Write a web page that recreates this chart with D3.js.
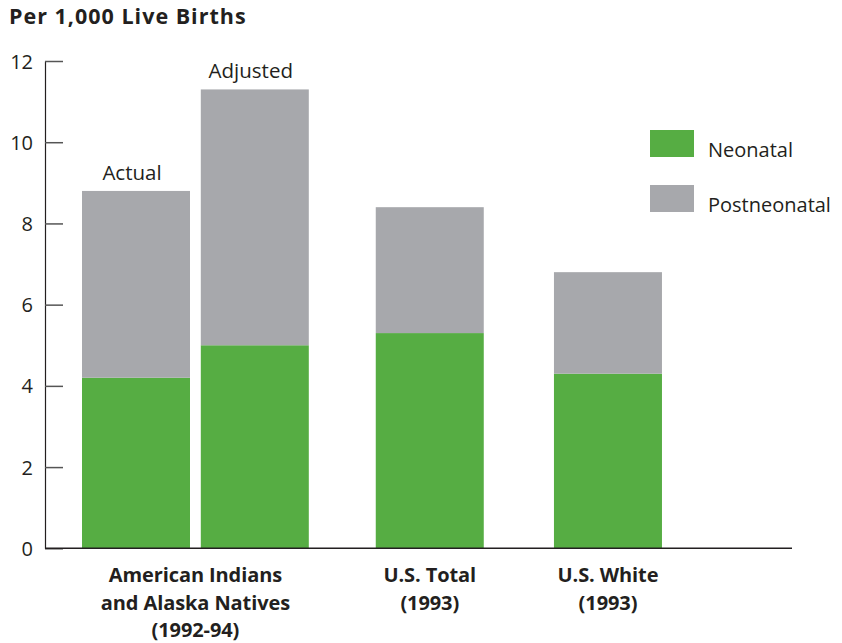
<!DOCTYPE html>
<html>
<head>
<meta charset="utf-8">
<script src="https://cdn.jsdelivr.net/npm/d3@7"></script>
<style>
  html, body { margin: 0; padding: 0; background: #fff; }
  svg { display: block; }
  text { font-family: "Open Sans", "Noto Sans", sans-serif; fill: #231f20; }
</style>
</head>
<body>
<svg id="chart" width="842" height="643"></svg>
<script>
// ---- Data ----
const barKeys = ["Actual", "Adjusted", "U.S. Total", "U.S. White"];
const barTopLabels = ["Actual", "Adjusted", "", ""];
const neonatal = [4.2, 5.0, 5.3, 4.3];
const postneonatal = [4.6, 6.3, 3.1, 2.5];
const seriesNames = ["Neonatal", "Postneonatal"];
const groupLabels = [
  ["American Indians", "and Alaska Natives", "(1992-94)"],
  ["U.S. Total", "(1993)"],
  ["U.S. White", "(1993)"]
];
const groupMembers = [["Actual", "Adjusted"], ["U.S. Total"], ["U.S. White"]];
const yTicks = [0, 2, 4, 6, 8, 10, 12];

// ---- Layout (positions in bar-width units along x) ----
const slot = { "Actual": 0, "Adjusted": 1.1, "U.S. Total": 2.72, "U.S. White": 4.37 };
const colors = { "Neonatal": "#56ad43", "Postneonatal": "#a7a8ac" };

const svg = d3.select("#chart");
const axisX = 45, baseY = 548.3, topY = 61;

const x = d3.scaleLinear().domain([0, 1]).range([82, 190]);
const bw = x(1) - x(0);
const y = d3.scaleLinear().domain([0, 12]).range([baseY, topY]);

const rows = barKeys.map((k, i) => ({ key: k, Neonatal: neonatal[i], Postneonatal: postneonatal[i], label: barTopLabels[i] }));
const stack = d3.stack().keys(seriesNames)(rows);

// Bars
svg.append("g").selectAll("g").data(stack).join("g")
  .attr("fill", d => colors[d.key])
  .selectAll("rect").data(d => d).join("rect")
  .attr("x", d => x(slot[d.data.key]))
  .attr("width", bw)
  .attr("y", d => y(d[1]))
  .attr("height", d => y(d[0]) - y(d[1]));

// Y axis
const yAxis = d3.axisLeft(y).tickValues(yTicks).tickSizeInner(-18).tickSizeOuter(0).tickPadding(12)
  .tickFormat(d3.format("d"));
const gy = svg.append("g").attr("transform", `translate(${axisX},0)`).call(yAxis);
gy.select(".domain").attr("stroke", "#231f20").attr("stroke-width", 1.2);
gy.selectAll(".tick line").attr("stroke", "#555").attr("stroke-width", 1.5);
gy.selectAll(".tick text").attr("font-size", 20).attr("font-family", "Open Sans, sans-serif").attr("fill", "#231f20").attr("dy", "0.35em");

// Baseline
svg.append("line").attr("x1", axisX).attr("x2", 792).attr("y1", y(0)).attr("y2", y(0))
  .attr("stroke", "#231f20").attr("stroke-width", 1.5);

// Bar top labels
svg.append("g").selectAll("text").data(rows.filter(r => r.label)).join("text")
  .attr("x", d => x(slot[d.key]) + bw / 2 - 4)
  .attr("y", d => y(d.Neonatal + d.Postneonatal) - 11)
  .attr("text-anchor", "middle")
  .attr("font-size", 20.5)
  .text(d => d.label);

// Category labels
groupLabels.forEach((lines, gi) => {
  const mem = groupMembers[gi];
  const cx = (x(slot[mem[0]]) + x(slot[mem[mem.length - 1]]) + bw) / 2;
  const t = svg.append("text").attr("text-anchor", "middle").attr("font-weight", "bold")
    .attr("font-size", 20).attr("letter-spacing", "-0.1")
    .attr("transform", `translate(${cx},0)`);
  lines.forEach((ln, li) => {
    t.append("tspan").attr("x", 0).attr("y", 582 + li * 27.5).text(ln);
  });
});

// Title
svg.append("text").attr("x", 9).attr("y", 24).attr("font-weight", "bold").attr("font-size", 21.5)
  .attr("letter-spacing", "1").text("Per 1,000 Live Births");

// Legend
const lg = svg.append("g").selectAll("g").data(seriesNames).join("g")
  .attr("transform", (d, i) => `translate(650,${130 + i * 55})`);
lg.append("rect").attr("width", 44).attr("height", 27).attr("fill", d => colors[d]);
lg.append("text").attr("x", 58).attr("y", 27).attr("font-size", 20).text(d => d);
</script>
</body>
</html>
